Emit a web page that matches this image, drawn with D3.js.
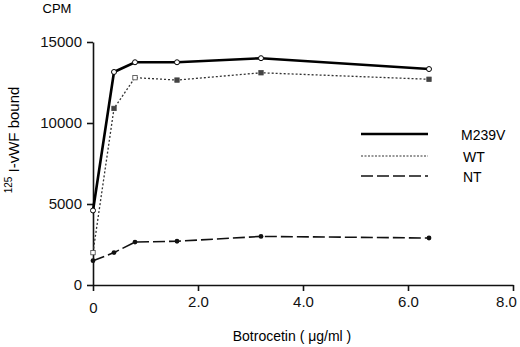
<!DOCTYPE html>
<html>
<head>
<meta charset="utf-8">
<script src="https://cdn.jsdelivr.net/npm/d3@7"></script>
<style>
  body { margin: 0; background: #fff; }
  svg { font-family: "Liberation Sans", Arial, sans-serif; }
</style>
</head>
<body>
<div id="chart"></div>
<script>
// data
const doses = [0, 0.4, 0.8, 1.6, 3.2, 6.4];
const m239v = [4600, 13150, 13750, 13750, 14000, 13330];
const wt = [2000, 10900, 12800, 12650, 13100, 12700];
const nt = [1500, 2000, 2650, 2700, 3000, 2900];
const xTicks = [0, 2, 4, 6, 8];
const yTicks = [0, 5000, 10000, 15000];

const width = 520, height = 347;
const margin = { top: 42, right: 7, bottom: 62, left: 93 };

const svg = d3.select("#chart").append("svg")
  .attr("width", width)
  .attr("height", height);

const x = d3.scaleLinear().domain([0, 8]).range([margin.left, width - margin.right]);
const y = d3.scaleLinear().domain([0, 15000]).range([height - margin.bottom, margin.top]);

// axes
const xAxis = svg.append("g")
  .attr("transform", `translate(0,${y(0)})`)
  .call(d3.axisBottom(x).tickValues(xTicks).tickSize(6).tickSizeOuter(0)
    .tickFormat(d => d === 0 ? "0" : d3.format(".1f")(d)));
xAxis.selectAll("text").attr("dy", null).attr("y", 22).style("font-size", "15px").attr("fill", "#111");
xAxis.selectAll("text").filter(d => d === 0).attr("y", 28);
xAxis.selectAll("text").filter(d => d === 8).attr("x", -7);

const yAxis = svg.append("g")
  .attr("transform", `translate(${x(0)},0)`)
  .call(d3.axisLeft(y).tickValues(yTicks).tickSize(6).tickSizeOuter(0).tickFormat(d3.format("d")));
yAxis.selectAll("text").attr("x", -11).style("font-size", "15px").attr("fill", "#111");

svg.selectAll(".domain, .tick line").attr("stroke", "#111").attr("stroke-width", 1.6);

// axis titles
svg.append("text")
  .attr("x", 57).attr("y", 13)
  .attr("text-anchor", "middle")
  .style("font-size", "13px")
  .text("CPM");

svg.append("text")
  .attr("x", 292).attr("y", 341)
  .attr("text-anchor", "middle")
  .style("font-size", "14px")
  .text("Botrocetin ( \u03bcg/ml )");

const yTitle = svg.append("text")
  .attr("transform", "translate(19,140) rotate(-90)")
  .attr("text-anchor", "middle")
  .style("font-size", "15px");
yTitle.append("tspan").attr("dy", -7).style("font-size", "10px").text("125");
yTitle.append("tspan").attr("dy", 7).text(" I-vWF bound");

// series
const line = d3.line().x(d => x(d[0])).y(d => y(d[1]));
const pts = vals => doses.map((d, i) => [d, vals[i]]);

svg.append("path")
  .datum(pts(nt))
  .attr("d", line)
  .attr("fill", "none")
  .attr("stroke", "#111")
  .attr("stroke-width", 1.6)
  .attr("stroke-dasharray", "12,4");

svg.append("path")
  .datum(pts(wt))
  .attr("d", line)
  .attr("fill", "none")
  .attr("stroke", "#333")
  .attr("stroke-width", 1.3)
  .attr("stroke-dasharray", "2,2");

svg.append("path")
  .datum(pts(m239v))
  .attr("d", line)
  .attr("fill", "none")
  .attr("stroke", "#000")
  .attr("stroke-width", 2.6);

// markers
svg.selectAll(".nt-pt").data(pts(nt)).join("circle")
  .attr("cx", d => x(d[0])).attr("cy", d => y(d[1]))
  .attr("r", 2.4).attr("fill", "#111");

svg.selectAll(".wt-pt").data(pts(wt)).join("rect")
  .attr("x", d => x(d[0]) - 2.2).attr("y", d => y(d[1]) - 2.2)
  .attr("width", 4.4).attr("height", 4.4)
  .attr("fill", (d, i) => i === 0 || i === 2 ? "#fff" : "#444")
  .attr("stroke", "#444").attr("stroke-width", 0.8);

svg.selectAll(".m-pt").data(pts(m239v)).join("circle")
  .attr("cx", d => x(d[0])).attr("cy", d => y(d[1]))
  .attr("r", 2.5).attr("fill", "#fff")
  .attr("stroke", "#000").attr("stroke-width", 1);

// legend
const legend = [
  { name: "M239V", w: 2.6, dash: null, c: "#000", ly: 134 },
  { name: "WT", w: 1.1, dash: "2,1.5", c: "#333", ly: 156 },
  { name: "NT", w: 1.6, dash: "12,4", c: "#111", ly: 176 }
];
const lg = svg.append("g");
legend.forEach((l, i) => {
  lg.append("line")
    .attr("x1", 361).attr("x2", 428).attr("y1", l.ly).attr("y2", l.ly)
    .attr("stroke", l.c).attr("stroke-width", l.w)
    .attr("stroke-dasharray", l.dash);
  lg.append("text")
    .attr("x", i === 0 ? 461 : 463).attr("y", l.ly + 6)
    .style("font-size", "14px")
    .text(l.name);
});
</script>
</body>
</html>
